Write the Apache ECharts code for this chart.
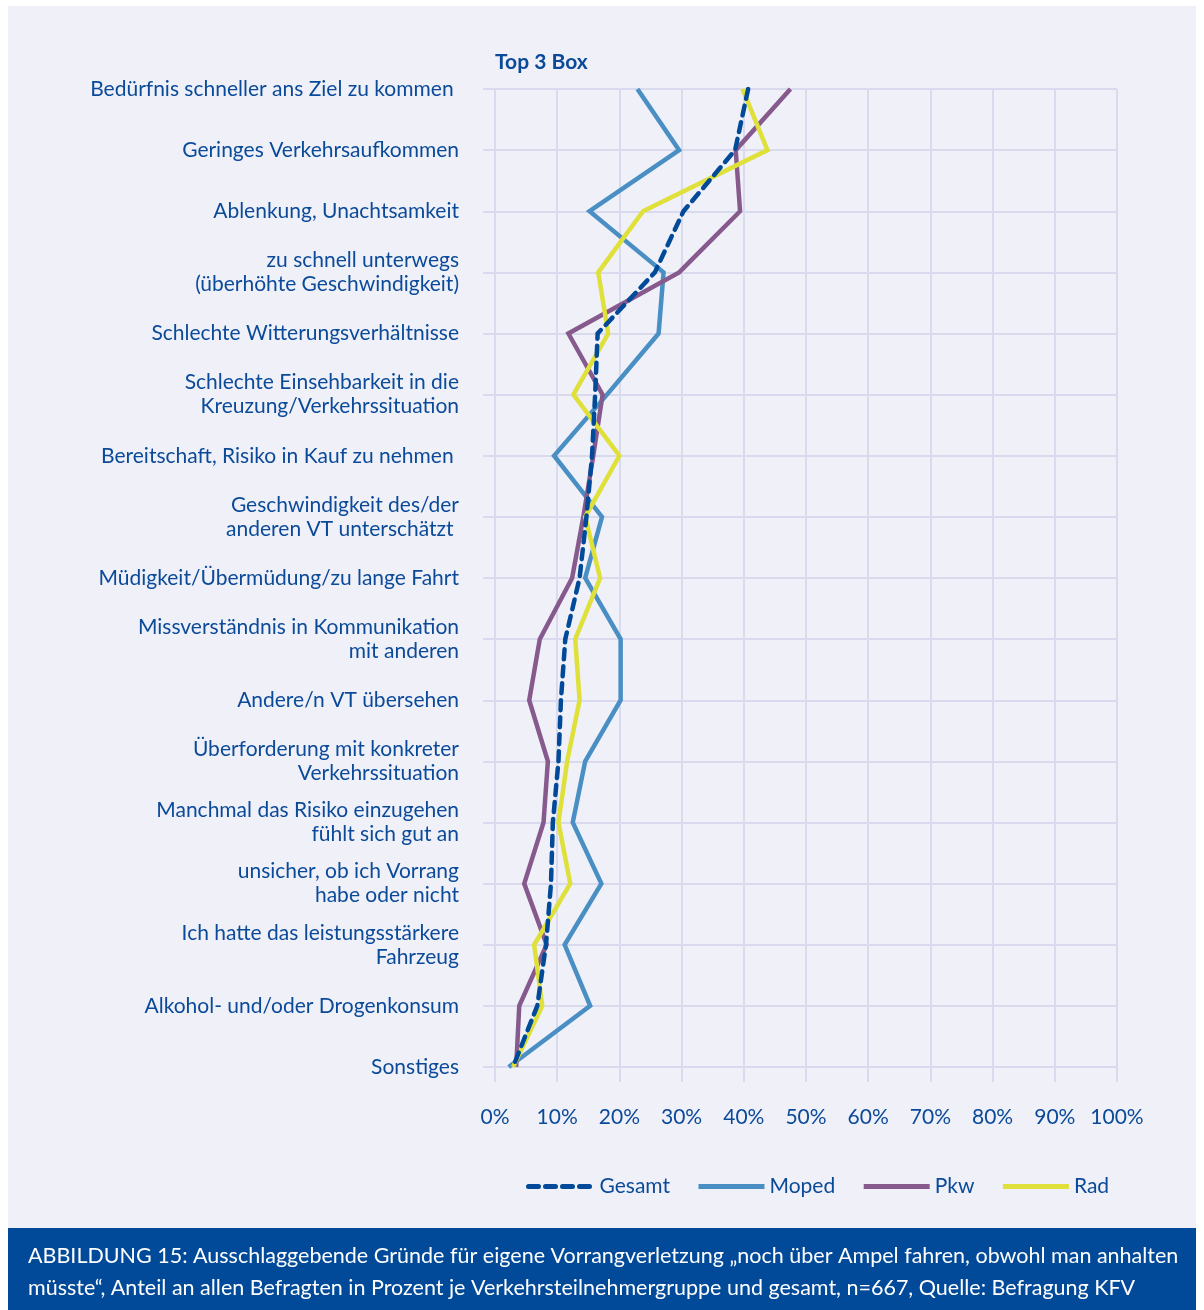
<!DOCTYPE html>
<html>
<head>
<meta charset="utf-8">
<script src="https://cdn.jsdelivr.net/npm/echarts@6/dist/echarts.min.js"></script>
<style>
html,body{margin:0;padding:0;background:#ffffff;}
#chart{width:1204px;height:1310px;}
</style>
</head>
<body>
<div id="chart"></div>
<script>
const categories = [
  "Bedürfnis schneller ans Ziel zu kommen ",
  "Geringes Verkehrsaufkommen",
  "Ablenkung, Unachtsamkeit",
  "zu schnell unterwegs\n(überhöhte Geschwindigkeit)",
  "Schlechte Witterungsverhältnisse",
  "Schlechte Einsehbarkeit in die\nKreuzung/Verkehrssituation",
  "Bereitschaft, Risiko in Kauf zu nehmen ",
  "Geschwindigkeit des/der\nanderen VT unterschätzt ",
  "Müdigkeit/Übermüdung/zu lange Fahrt",
  "Missverständnis in Kommunikation\nmit anderen",
  "Andere/n VT übersehen",
  "Überforderung mit konkreter\nVerkehrssituation",
  "Manchmal das Risiko einzugehen\nfühlt sich gut an",
  "unsicher, ob ich Vorrang\nhabe oder nicht",
  "Ich hatte das leistungsstärkere\nFahrzeug",
  "Alkohol- und/oder Drogenkonsum",
  "Sonstiges"
];
const gesamt = [40.7, 38.6, 30.3, 25.7, 16.5, 16.1, 15.6, 14.7, 13.6, 11.3, 10.6, 10.2, 9.3, 9.0, 8.2, 6.8, 2.9];
const moped  = [22.9, 29.6, 15.2, 27.1, 26.3, 18.0, 9.5, 17.2, 14.5, 20.2, 20.2, 14.5, 12.5, 17.1, 11.2, 15.3, 2.2];
const pkw    = [47.5, 38.7, 39.4, 29.6, 11.8, 17.3, 15.8, 14.2, 12.4, 7.2, 5.5, 8.5, 7.8, 4.7, 8.3, 3.9, 3.4];
const rad    = [39.8, 43.8, 23.8, 16.6, 18.2, 12.6, 20.0, 14.5, 16.9, 12.9, 13.6, 11.6, 10.2, 12.1, 6.3, 7.6, 2.9];
const xTicks = [0, 10, 20, 30, 40, 50, 60, 70, 80, 90, 100];
const seriesNames = ["Gesamt", "Moped", "Pkw", "Rad"];
const captionLines = [
  "ABBILDUNG 15: Ausschlaggebende Gründe für eigene Vorrangverletzung „noch über Ampel fahren, obwohl man anhalten",
  "müsste“, Anteil an allen Befragten in Prozent je Verkehrsteilnehmergruppe und gesamt, n=667, Quelle: Befragung KFV"
];

const FONT = 'Lato, "Open Sans", sans-serif';
const TXT = '#0b4a99';
const GRID = '#d9daee';
const colors = ['#004a99', '#4a8fc4', '#875a8e', '#dfe03a'];

const chart = echarts.init(document.getElementById('chart'), null, {renderer: 'canvas'});
const mk = (name, data, i, dashed) => ({
  name, type: 'line', data, symbol: 'none', smooth: false,
  lineStyle: {color: colors[i], width: 4.5, type: dashed ? [10, 7] : 'solid', cap: dashed ? 'round' : 'butt', join: 'miter'},
  itemStyle: {color: colors[i]},
  z: dashed ? 20 : 5 + i
});
chart.setOption({
  animation: false,
  backgroundColor: '#ffffff',
  textStyle: {fontFamily: FONT},
  graphic: [
    {type: 'rect', shape: {x: 8, y: 6, width: 1188, height: 1222}, style: {fill: '#eff0f8'}, z: -10, silent: true},
    {type: 'rect', shape: {x: 8, y: 1228, width: 1188, height: 82}, style: {fill: '#004a99'}, z: -10, silent: true},
    {type: 'text', left: 28, top: 1245, style: {text: captionLines[0], fill: '#ffffff', font: '21.5px ' + FONT}},
    {type: 'text', left: 28, top: 1277, style: {text: captionLines[1], fill: '#ffffff', font: '21.5px ' + FONT}},
    {type: 'text', left: 495, top: 52, style: {text: 'Top 3 Box', fill: TXT, font: 'bold 21px ' + FONT}}
  ],
  grid: {left: 495, right: 87, top: 89, bottom: 243, containLabel: false},
  legend: {
    data: seriesNames, top: 1171, left: 521, itemGap: 26, itemWidth: 66, itemHeight: 14,
    itemStyle: {opacity: 0},
    lineStyle: {width: 5},
    textStyle: {color: TXT, fontSize: 21, fontFamily: FONT}
  },
  xAxis: {
    type: 'value', min: 0, max: 100, interval: 10,
    axisLine: {show: false},
    axisTick: {show: true, length: 15, lineStyle: {color: GRID, width: 2}},
    splitLine: {show: true, lineStyle: {color: GRID, width: 2}},
    axisLabel: {formatter: v => xTicks.includes(v) ? v + '%' : '', color: TXT, fontSize: 21, margin: 40, fontFamily: FONT}
  },
  yAxis: {
    type: 'category', data: categories, inverse: true, boundaryGap: false,
    axisLine: {show: false},
    axisTick: {show: true, length: 12, alignWithLabel: true, lineStyle: {color: GRID, width: 2}},
    splitLine: {show: true, lineStyle: {color: GRID, width: 2}},
    axisLabel: {color: TXT, fontSize: 21, margin: 36, align: 'right', lineHeight: 24, fontFamily: FONT, interval: 0}
  },
  series: [
    mk(seriesNames[0], gesamt, 0, true),
    mk(seriesNames[1], moped, 1, false),
    mk(seriesNames[2], pkw, 2, false),
    mk(seriesNames[3], rad, 3, false)
  ]
});
</script>
</body>
</html>
